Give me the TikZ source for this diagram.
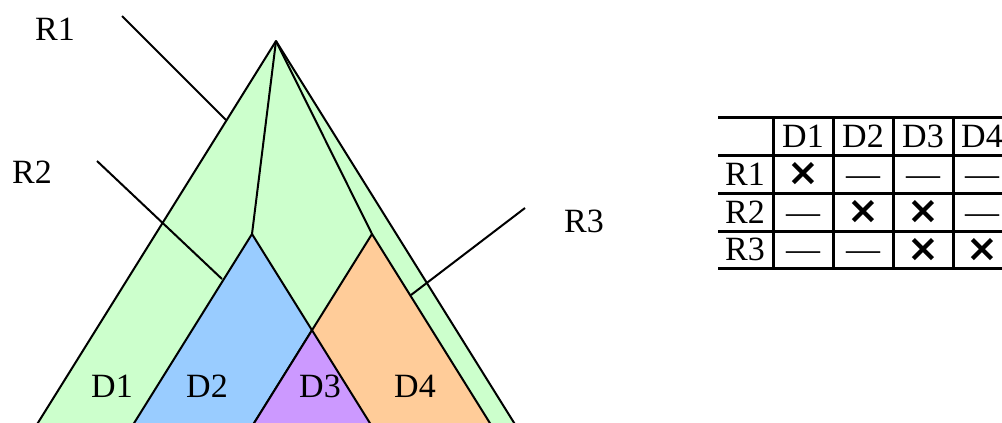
\documentclass[tikz,border=0pt]{standalone}
\usepackage{fontspec}
\setmainfont{Liberation Serif}
\newfontfamily\markfont{DejaVu Sans}
\usepackage{tikz}
\definecolor{cgreen}{HTML}{CCFFCC}
\definecolor{cblue}{HTML}{99CCFF}
\definecolor{cpurple}{HTML}{CC99FF}
\definecolor{corange}{HTML}{FFCC99}
\newcommand{\tabyes}{{\markfont\bfseries\fontsize{19}{20}\selectfont ×}}
\newcommand{\tabno}{—}

\begin{document}
\begin{tikzpicture}[x=0.5pt, y=-0.5pt, line join=round,
    lbl/.style={font=\fontsize{17}{20}\selectfont, inner sep=0pt, anchor=base},
    region/.style={draw=black, line width=1pt},
    leader/.style={draw=black, line width=1pt},
    grid/.style={draw=black, line width=1.5pt}]
  \useasboundingbox (0,0) rectangle (1002,423);
  \clip (0,0) rectangle (1002,423);
  % corners of the nested triangles
  \coordinate (top) at (276,41);
  \coordinate (outL) at (2.3,480);
  \coordinate (outR) at (549.7,480);
  \coordinate (bTop) at (252,234);
  \coordinate (bL) at (98.6,480);
  \coordinate (bR) at (405.4,480);
  \coordinate (oTop) at (372,234);
  \coordinate (oL) at (218.6,480);
  \coordinate (oR) at (525.4,480);
  \coordinate (pTop) at (312,330.2);
  \draw[region, fill=cgreen] (top) -- (outL) -- (outR) -- cycle;
  \draw[region, fill=cblue] (bTop) -- (bL) -- (bR) -- cycle;
  \draw[region, fill=corange] (oTop) -- (oL) -- (oR) -- cycle;
  \draw[region, fill=cpurple] (pTop) -- (oL) -- (bR) -- cycle;
  \draw[region] (top) -- (bTop);
  \draw[region] (top) -- (oTop);
  % region labels and leaders
  \node[lbl] (r1) at (55,40) {R1};
  \node[lbl] (r2) at (32,183) {R2};
  \node[lbl] (r3) at (584,232) {R3};
  \coordinate (r1a) at (122,16);
  \coordinate (r1b) at (226,120);
  \coordinate (r2a) at (97,161);
  \coordinate (r2b) at (222,279);
  \coordinate (r3a) at (525,208);
  \coordinate (r3b) at (411,295);
  \draw[leader] (r1a) -- (r1b);
  \draw[leader] (r2a) -- (r2b);
  \draw[leader] (r3a) -- (r3b);
  \node[lbl] (d1) at (112,397) {D1};
  \node[lbl] (d2) at (207,397) {D2};
  \node[lbl] (d3) at (320,397) {D3};
  \node[lbl] (d4) at (415,397) {D4};
  % table
  \draw[grid] (718,117) -- (1010,117);
  \draw[grid] (718,155) -- (1010,155);
  \draw[grid] (718,193) -- (1010,193);
  \draw[grid] (718,231) -- (1010,231);
  \draw[grid] (718,268) -- (1010,268);
  \draw[grid] (773,117) -- (773,268);
  \draw[grid] (833,117) -- (833,268);
  \draw[grid] (893,117) -- (893,268);
  \draw[grid] (953,117) -- (953,268);
  \node[lbl] (h1) at (803,147) {D1};
  \node[lbl] (h2) at (863,147) {D2};
  \node[lbl] (h3) at (923,147) {D3};
  \node[lbl] (h4) at (982,147) {D4};
  \node[lbl] (t1) at (745,185) {R1};
  \node[lbl] (t2) at (745,223) {R2};
  \node[lbl] (t3) at (745,260) {R3};
  \node[inner sep=0pt] (c11) at (803,174) {\tabyes};
  \node[lbl] (c12) at (863,185) {\tabno};
  \node[lbl] (c13) at (923,185) {\tabno};
  \node[lbl] (c14) at (982,185) {\tabno};
  \node[lbl] (c21) at (803,223) {\tabno};
  \node[inner sep=0pt] (c22) at (863,212) {\tabyes};
  \node[inner sep=0pt] (c23) at (923,212) {\tabyes};
  \node[lbl] (c24) at (982,223) {\tabno};
  \node[lbl] (c31) at (803,260) {\tabno};
  \node[lbl] (c32) at (863,260) {\tabno};
  \node[inner sep=0pt] (c33) at (923,249.5) {\tabyes};
  \node[inner sep=0pt] (c34) at (982,249.5) {\tabyes};
\end{tikzpicture}
\end{document}
